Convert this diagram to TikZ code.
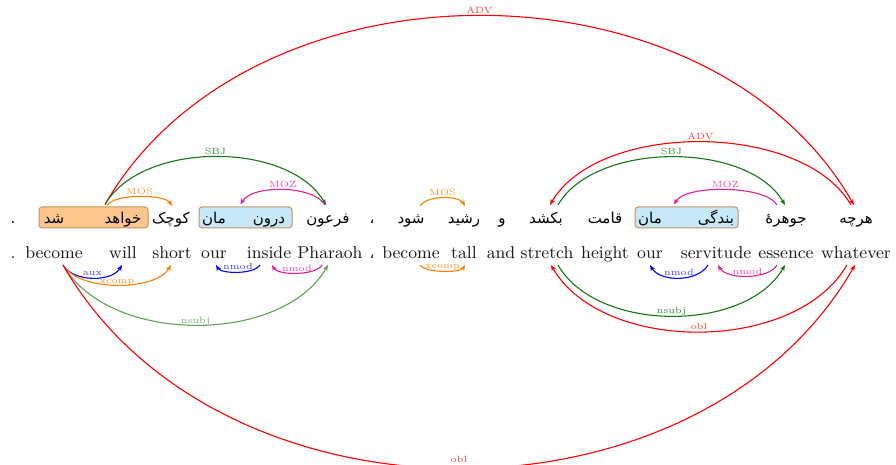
\documentclass[tikz,border=0pt]{standalone}
\usepackage{fontspec}
\usetikzlibrary{arrows.meta}
\TeXXeTstate=1
\newfontfamily\fafont[Script=Arabic]{DejaVu Sans}

\definecolor{depred}{RGB}{255,0,0}
\definecolor{depgreen}{RGB}{20,120,20}
\definecolor{deplgreen}{RGB}{100,160,90}
\definecolor{deporange}{RGB}{255,128,0}
\definecolor{depmagenta}{RGB}{232,30,150}
\definecolor{depblue}{RGB}{0,0,255}
\definecolor{grporange}{RGB}{252,198,142}
\definecolor{grpblue}{RGB}{198,232,248}
\definecolor{grpedge}{RGB}{196,146,96}

\begin{document}
\begin{tikzpicture}[x=0.5pt,y=-0.5pt,
  enword/.style={anchor=base, inner sep=0pt, text=black!90, font=\fontsize{8.6}{10}\selectfont},
  faword/.style={anchor=base, inner sep=0pt, font=\fontsize{7.5}{9}\fafont},
  group/.style={draw=grpedge, line width=0.5pt, rounded corners=1.6pt, fill=#1,
                minimum height=10.5pt, inner sep=0pt},
  dep/.style={line width=0.55pt, -{Stealth[length=3pt,width=2.4pt]}},
  lbl/.style={anchor=base, yshift=1pt, inner sep=0pt, text=#1,
              font=\fontsize{4.5}{5}\selectfont}]
\useasboundingbox (0,0) rectangle (896,465);
\clip (0,0) rectangle (896,465);
\fill[white] (0,0) rectangle (896,465);

% grouped words
\node[group=grporange, minimum width=54.5pt] (g1) at (93.5,217.5) {};
\node[group=grpblue,   minimum width=46.5pt] (g2) at (245.5,217.5) {};
\node[group=grpblue,   minimum width=51.5pt] (g3) at (686.5,217.5) {};

% Persian sentence
\node[faword] (fa0)  at (13,224)  {.};
\node[faword] (fa1)  at (54,224)  {\beginR شد\endR};
\node[faword] (fa2)  at (123,224) {\beginR خواهد\endR};
\node[faword] (fa3)  at (171,224) {\beginR کوچک\endR};
\node[faword] (fa4)  at (214,224) {\beginR مان\endR};
\node[faword] (fa5)  at (269,224) {\beginR درون\endR};
\node[faword] (fa6)  at (328,224) {\beginR فرعون\endR};
\node[faword] (fa7)  at (372,224) {\beginR ،\endR};
\node[faword] (fa8)  at (411,224) {\beginR شود\endR};
\node[faword] (fa9)  at (464,224) {\beginR رشید\endR};
\node[faword] (fa10) at (502,224) {\beginR و\endR};
\node[faword] (fa11) at (546,224) {\beginR بکشد\endR};
\node[faword] (fa12) at (605,224) {\beginR قامت\endR};
\node[faword] (fa13) at (650,224) {\beginR مان\endR};
\node[faword] (fa14) at (716,224) {\beginR بندگی\endR};
\node[faword] (fa15) at (786,224) {\beginR جوهرهٔ\endR};
\node[faword] (fa16) at (856,224) {\beginR هرچه\endR};

% English gloss
\node[enword] (en0)  at (13,259)  {.};
\node[enword] (en1)  at (54,259)  {become};
\node[enword] (en2)  at (123,259) {will};
\node[enword] (en3)  at (172,259) {short};
\node[enword] (en4)  at (214,259) {our};
\node[enword] (en5)  at (269,259) {inside};
\node[enword] (en6)  at (330,259) {Pharaoh};
\node[enword] (en7)  at (372,259) {\fafont\fontsize{7.5}{9}\selectfont\beginR ،\endR};
\node[enword] (en8)  at (411,259) {become};
\node[enword] (en9)  at (464,259) {tall};
\node[enword] (en10) at (501,259) {and};
\node[enword] (en11) at (547,259) {stretch};
\node[enword] (en12) at (605,259) {height};
\node[enword] (en13) at (650,259) {our};
\node[enword] (en14) at (716,259) {servitude};
\node[enword] (en15) at (786,259) {essence};
\node[enword] (en16) at (856,259) {whatever};

% arcs above the Persian sentence
\draw[dep, depred] ([shift={(11.5,-2)}]g1.north) .. controls +(145,-252) and +(-145,-252) ..
  ([shift={(-2,-19)}]fa16.base) node[lbl=depred!75, pos=0.5] {ADV};
\draw[dep, depgreen] ([shift={(11.5,-2)}]g1.north) .. controls +(37,-64) and +(-37,-64) ..
  ([shift={(-2,-19)}]fa6.base) node[lbl=depgreen!85, pos=0.5] {SBJ};
\draw[dep, deporange] ([shift={(13.5,-1)}]g1.north) .. controls +(7,-12) and +(-7,-12) ..
  ([shift={(1,-18)}]fa3.base) node[lbl=deporange!80, pos=0.5] {MOS};
\draw[dep, depmagenta] ([shift={(-3,-19)}]fa6.base) .. controls +(-11.5,-20) and +(11.5,-20) ..
  ([shift={(-5,-2)}]g2.north) node[lbl=depmagenta!80, pos=0.5] {MOZ};
\draw[dep, deporange] ([shift={(9,-18)}]fa8.base) .. controls +(6.2,-10.7) and +(-6.2,-10.7) ..
  ([shift={(1,-18)}]fa9.base) node[lbl=deporange!80, pos=0.5] {MOS};
\draw[dep, depred] ([shift={(-5,-19)}]fa16.base) .. controls +(-48.5,-84) and +(48.5,-84) ..
  ([shift={(4,-19)}]fa11.base) node[lbl=depred!75, pos=0.5] {ADV};
\draw[dep, depgreen] ([shift={(12,-19)}]fa11.base) .. controls +(37,-64) and +(-37,-64) ..
  ([shift={(-1,-19)}]fa15.base) node[lbl=depgreen!85, pos=0.5] {SBJ};
\draw[dep, depmagenta] ([shift={(-9,-19)}]fa15.base) .. controls +(-11.5,-20) and +(11.5,-20) ..
  ([shift={(-12.5,-2)}]g3.north) node[lbl=depmagenta!80, pos=0.5] {MOZ};

% arcs below the English gloss
\draw[dep, depblue] ([shift={(9,6)}]en1.base) .. controls +(10,17.3) and +(-10,17.3) ..
  ([shift={(-1,6)}]en2.base) node[lbl=depblue!75, pos=0.5] {aux};
\draw[dep, deporange] ([shift={(9,6)}]en1.base) .. controls +(15.4,26.7) and +(-15.4,26.7) ..
  ([shift={(-1,6)}]en3.base) node[lbl=deporange!80, pos=0.5] {xcomp};
\draw[dep, deplgreen] ([shift={(9,6)}]en1.base) .. controls +(46,80) and +(-46,80) ..
  ([shift={(-2,6)}]en6.base) node[lbl=deplgreen!85, pos=0.5] {nsubj};
\draw[dep, depred] ([shift={(9,6)}]en1.base) .. controls +(156,271) and +(-156,271) ..
  ([shift={(-1,6)}]en16.base) node[lbl=depred!75, pos=0.5, yshift=2pt] {obl};
\draw[dep, depblue] ([shift={(-9,6)}]en5.base) .. controls +(-5.4,9.3) and +(5.4,9.3) ..
  ([shift={(2,6)}]en4.base) node[lbl=depblue!75, pos=0.5] {nmod};
\draw[dep, depmagenta] ([shift={(-8,6)}]en6.base) .. controls +(-6.2,10.7) and +(6.2,10.7) ..
  ([shift={(3,6)}]en5.base) node[lbl=depmagenta!80, pos=0.5] {nmod};
\draw[dep, deporange] ([shift={(9,6)}]en8.base) .. controls +(4.6,8) and +(-4.6,8) ..
  ([shift={(1,6)}]en9.base) node[lbl=deporange!80, pos=0.5] {xcomp};
\draw[dep, depgreen] ([shift={(11,6)}]en11.base) .. controls +(39,68) and +(-39,68) ..
  ([shift={(-1,6)}]en15.base) node[lbl=depgreen!85, pos=0.5] {nsubj};
\draw[dep, depred] ([shift={(-9,6)}]en16.base) .. controls +(-51.5,89) and +(51.5,89) ..
  ([shift={(4,6)}]en11.base) node[lbl=depred!75, pos=0.5] {obl};
\draw[dep, depblue] ([shift={(-8,6)}]en14.base) .. controls +(-10,17.3) and +(10,17.3) ..
  ([shift={(0,6)}]en13.base) node[lbl=depblue!75, pos=0.5] {nmod};
\draw[dep, depmagenta] ([shift={(-9,6)}]en15.base) .. controls +(-8.5,14.7) and +(8.5,14.7) ..
  ([shift={(2,6)}]en14.base) node[lbl=depmagenta!80, pos=0.5] {nmod};
\end{tikzpicture}
\end{document}
